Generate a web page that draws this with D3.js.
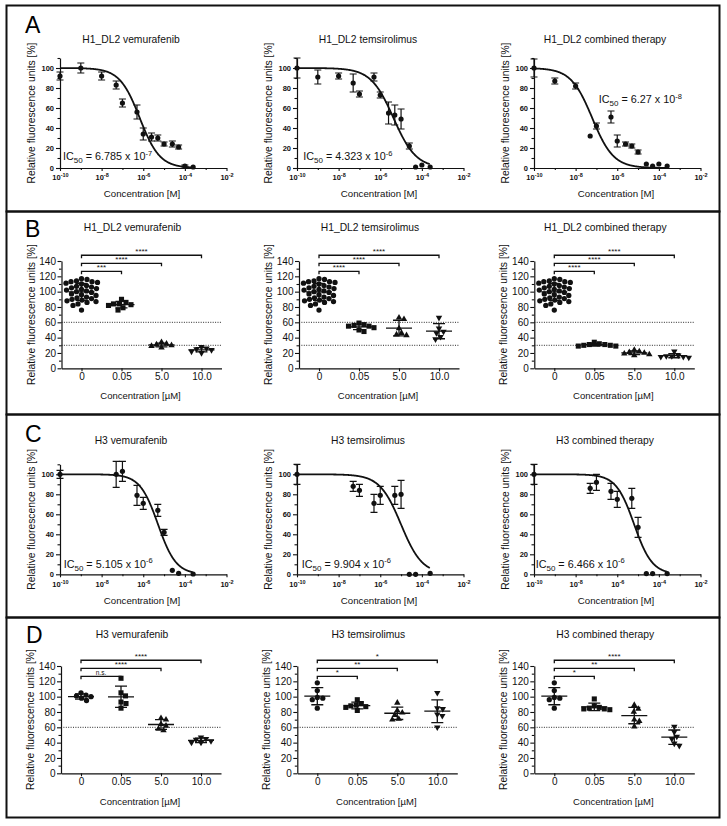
<!DOCTYPE html>
<html><head><meta charset="utf-8">
<script src="https://cdn.jsdelivr.net/npm/d3@7"></script>
<style>body{margin:0;background:#fff}</style>
</head><body><svg id="c" width="727" height="826"></svg>
<script>
// ---------------- DATA ----------------
// Dose-response (panels A, C): concentrations in M
const concH1 = [1e-10,1e-9,1e-8,5e-8,1e-7,5e-7,1e-6,2.5e-6,5e-6,1e-5,2.5e-5,5e-5,1e-4,2.5e-4];
const concH3 = [1e-10,5e-8,1e-7,5e-7,1e-6,5e-6,1e-5,2.5e-5,5e-5,2.5e-4];

const a1Mean = [92,100,92,83,65,56,34,31,30,24,24,21,2,1];
const a1Err  = [4,5,4,4,4,7,6,4,3,2,3,2,1,0];
const a2Mean = [100,91,92,85,74,91,73,55,53,49,22,1,3,1];
const a2Err  = [10,7,3,9,3,4,3,11,10,10,3,0,0,0];
const a3Mean = [100,87,82,32,42,51,27,24,22,16,4,2,4,2];
const a3Err  = [9,3,3,0,3,6,6,2,2,2,0,0,0,0];
const c1Mean = [100,100,103,79,71,64,42,4,1,0.3];
const c1Err  = [4,13,10,10,6,6,3,0,0,0];
const c2Mean = [100,88,84,71,79,79,80,0,0,1];
const c2Err  = [10,5,6,9,9,9,14,0,0,0];
const c3Mean = [100,86,92,83,75,76,47,0.7,0.7,0.7];
const c3Err  = [10,5,8,8,8,10,10,0,0,0];

const ic50Values = [6.785e-7, 4.323e-6, 6.27e-8, 5.105e-6, 9.904e-6, 6.466e-6];
const hillSlopes = [0.9, 0.8, 0.85, 1.0, 0.85, 1.0];
const fitTop = 100, fitBottom = 0;

const doseTitles = ["H1_DL2 vemurafenib","H1_DL2 temsirolimus","H1_DL2 combined therapy",
                    "H3 vemurafenib","H3 temsirolimus","H3 combined therapy"];
const doseXTicks = [1e-10,1e-8,1e-6,1e-4,1e-2];
const doseXMinor = [1e-9,1e-7,1e-5,1e-3];
const doseYTicks = [0,20,40,60,80,100];
const doseYMinor = [10,30,50,70,90,110];

// Scatter plots (panels B, D)
const categories = ["0","0.05","5.0","10.0"];
const scatterYTicks = [0,20,40,60,80,100,120,140];
const scatterYMinor = [10,30,50,70,90,110,130];
const h1Control = [117,116,114,113,113,112,111,110,108,107,106,105,104,103,102,101,100,99,97,96,95,93,92,91,90,89,88,87,86,84,82,76];
const h3Control = [118,108,99,96,98,85];

const b1Groups = [h1Control,[90,86,84,84,83,79,76,82],[34,32,31,30,29,27],[28,26,25,24,22,20]];
const b2Groups = [h1Control,[59,57,56,55,55,53,50,48],[66,64,52,46,43,44],[66,52,48,46,41,38]];
const b3Groups = [h1Control,[34,32,31,31,30,30,29,29],[24,22,21,20,19,18,17],[22,17,16,16,15,15,14]];
const d1Groups = [[105,102,101,100,98,95],[124,105,101,91,93,85],[72,70,64,62,58,56],[47,45,44,42,40,40]];
const d2Groups = [h3Control,[96,91,89,88,87,86,82],[92,82,79,76,71,70],[105,85,84,77,75,60]];
const d3Groups = [h3Control,[97,88,86,85,84,84,83],[89,84,80,70,68,61],[61,54,48,45,39,36]];

const b1Stars = ["***","****","****"];
const b2Stars = ["****","****","****"];
const b3Stars = ["****","****","****"];
const d1Stars = ["n.s.","****","****"];
const d2Stars = ["*","**","*"];
const d3Stars = ["*","**","****"];
const bracketLevels = [126.5,137,147.5];
const bThresholds = [60,30];
const dThresholds = [60];

const panelLetters = ["A","B","C","D"];

// ---------------- LAYOUT ----------------
const FONT = '"Liberation Sans", Arial, Helvetica, sans-serif';
const svg = d3.select("#c");
svg.append("rect").attr("width",727).attr("height",826).attr("fill","#fff");

const panelBoxes = [[6.5,5.5,713,206],[6.5,211.5,713,203],[6.5,414.5,713,203],[6.5,617.5,713,200]];
const letterPos = [[25,33],[25,237],[25,442],[26,643]];
panelBoxes.forEach(b => svg.append("rect").attr("x",b[0]).attr("y",b[1]).attr("width",b[2]).attr("height",b[3])
  .attr("fill","none").attr("stroke","#111").attr("stroke-width",2));
panelLetters.forEach((l,i) => svg.append("text").attr("x",letterPos[i][0]).attr("y",letterPos[i][1])
  .attr("font-family",FONT).attr("font-size",23).text(l));

const doseLayouts = [
  {x0:60,y0:168,titleY:42.5,labelY:197},{x0:297,y0:168,titleY:42.5,labelY:197},{x0:534,y0:168,titleY:42.5,labelY:197},
  {x0:60,y0:574.3,titleY:444,labelY:604},{x0:297,y0:574.3,titleY:444,labelY:604},{x0:534,y0:574.3,titleY:444,labelY:604}];
const icPositions = [[1.4e-10,8],[2e-10,8],[1.3e-7,65],[1.5e-10,6.5],[1.7e-10,6.5],[1.2e-10,6.5]];

const scatterLayouts = [
  {x0:61.5,y0:368.3,titleY:231,labelY:399},{x0:299,y0:368.3,titleY:231,labelY:399},{x0:534.3,y0:368.3,titleY:231,labelY:399},
  {x0:61,y0:773.3,titleY:638,labelY:805},{x0:297.3,y0:773.3,titleY:638,labelY:805},{x0:534.3,y0:773.3,titleY:638,labelY:805}];

function styleAxis(a, size, weight) {
  a.attr("font-family", FONT);
  a.select(".domain").attr("stroke","#111").attr("stroke-width",1.2);
  a.selectAll(".tick line").attr("stroke","#111").attr("stroke-width",1.1);
  a.selectAll(".tick text").attr("font-size",size).attr("font-weight",weight).attr("fill","#111").attr("font-family",FONT);
}

function yLabel(g, x, yc) {
  g.append("text").attr("transform",`translate(${x},${yc}) rotate(-90)`).attr("text-anchor","middle")
    .attr("font-family",FONT).attr("font-size",10.3).attr("fill","#111").text("Relative fluorescence units [%]");
}

function drawDose(i, conc, mean, err) {
  const L = doseLayouts[i];
  const g = svg.append("g");
  const x = d3.scaleLog().domain([1e-10,1e-2]).range([L.x0, L.x0+166.5]);
  const y = d3.scaleLinear().domain([0,110]).range([L.y0, L.y0-110]);

  g.append("g").attr("transform",`translate(${L.x0},0)`)
    .call(d3.axisLeft(y).tickValues(doseYMinor).tickSize(2.5).tickFormat("").tickSizeOuter(0))
    .call(a => { a.select(".domain").remove(); a.selectAll("line").attr("stroke","#111").attr("stroke-width",1.1); });
  const ya = g.append("g").attr("transform",`translate(${L.x0},0)`)
    .call(d3.axisLeft(y).tickValues(doseYTicks).tickSize(4).tickPadding(2).tickSizeOuter(0));
  styleAxis(ya, 7.5, "bold");

  g.append("g").attr("transform",`translate(0,${L.y0})`)
    .call(d3.axisBottom(x).tickValues(doseXMinor).tickSize(2).tickFormat("").tickSizeOuter(0))
    .call(a => { a.select(".domain").remove(); a.selectAll("line").attr("stroke","#111").attr("stroke-width",1.1); });
  const xa = g.append("g").attr("transform",`translate(0,${L.y0})`)
    .call(d3.axisBottom(x).tickValues(doseXTicks).tickSize(3).tickPadding(4).tickFormat(() => "").tickSizeOuter(0));
  styleAxis(xa, 7.5, "bold");
  xa.selectAll(".tick text").each(function(d) {
    const t = d3.select(this);
    t.append("tspan").text("10");
    t.append("tspan").attr("dy",-3).attr("font-size",5.5).text(Math.round(Math.log10(d)));
  });

  // fit curve
  const logIC = Math.log10(ic50Values[i]), h = hillSlopes[i];
  const lmin = Math.log10(d3.min(conc)), lmax = Math.log10(d3.max(conc));
  const curve = d3.range(lmin, lmax + 0.001, 0.02).map(l => [l, fitBottom + (fitTop-fitBottom)/(1+Math.pow(10,(l-logIC)*h))]);
  g.append("path").datum(curve).attr("fill","none").attr("stroke","#111").attr("stroke-width",1.8)
    .attr("d", d3.line().x(d => x(Math.pow(10,d[0]))).y(d => y(d[1])));

  // error bars + points
  conc.forEach((c,k) => {
    if (err[k] > 0.5) {
      const cx = x(c), y1 = y(mean[k]+err[k]), y2 = y(Math.max(0,mean[k]-err[k]));
      g.append("path").attr("d",`M${cx},${y1}V${y2}M${cx-3.5},${y1}H${cx+3.5}M${cx-3.5},${y2}H${cx+3.5}`)
        .attr("stroke","#111").attr("stroke-width",1.2).attr("fill","none");
    }
    g.append("circle").attr("cx",x(c)).attr("cy",y(mean[k])).attr("r",2.6).attr("fill","#111");
  });

  // labels
  g.append("text").attr("x",L.x0+71).attr("y",L.titleY).attr("text-anchor","middle")
    .attr("font-family",FONT).attr("font-size",10.3).attr("fill","#111").text(doseTitles[i]);
  g.append("text").attr("x",L.x0+82).attr("y",L.labelY).attr("text-anchor","middle")
    .attr("font-family",FONT).attr("font-size",9.7).attr("fill","#111").text("Concentration [M]");
  yLabel(g, L.x0-25, y(55));

  const [mant, ex] = ic50Values[i].toExponential().split("e");
  const p = icPositions[i];
  const t = g.append("text").attr("x",x(p[0])).attr("y",y(p[1])).attr("font-family",FONT).attr("font-size",10.8).attr("fill","#111");
  t.append("tspan").text("IC");
  t.append("tspan").attr("font-size",8).attr("dy",3).text("50");
  t.append("tspan").attr("dy",-3).text(" = " + mant + " x 10");
  t.append("tspan").attr("font-size",7.5).attr("dy",-4.5).text(ex);
}

function swarm(vals, y, diam) {
  const pts = vals.map(v => ({v, py: y(v)})).sort((a,b) => a.py - b.py);
  const placed = [];
  pts.forEach(p => {
    for (let k = 0; k < 400; k++) {
      const off = (k % 2 ? 1 : -1) * Math.ceil(k/2) * 0.5;
      if (placed.every(q => (q.dx-off)*(q.dx-off) + (q.py-p.py)*(q.py-p.py) >= diam*diam)) { p.dx = off; break; }
    }
    placed.push(p);
  });
  return pts;
}

const symbolTypes = [d3.symbolCircle, d3.symbolSquare, d3.symbolTriangle, d3.symbolTriangle];
const symbolSizes = [22, 26, 18, 18];

function drawScatter(i, groups, stars, thresholds) {
  const L = scatterLayouts[i];
  const g = svg.append("g");
  const x = d3.scalePoint().domain(categories).range([L.x0, L.x0+160]).padding(0.5);
  const y = d3.scaleLinear().domain([0,140]).range([L.y0, L.y0-107.3]);

  // threshold lines
  thresholds.forEach(t => g.append("line").attr("x1",L.x0).attr("x2",L.x0+160).attr("y1",y(t)).attr("y2",y(t))
    .attr("stroke","#111").attr("stroke-width",0.9).attr("stroke-dasharray","1,1.4"));

  g.append("g").attr("transform",`translate(${L.x0},0)`)
    .call(d3.axisLeft(y).tickValues(scatterYMinor).tickSize(2.5).tickFormat("").tickSizeOuter(0))
    .call(a => { a.select(".domain").remove(); a.selectAll("line").attr("stroke","#111").attr("stroke-width",1.1); });
  const ya = g.append("g").attr("transform",`translate(${L.x0},0)`)
    .call(d3.axisLeft(y).tickValues(scatterYTicks).tickSize(4).tickPadding(1.5).tickSizeOuter(0));
  styleAxis(ya, 10, "normal");
  const xa = g.append("g").attr("transform",`translate(0,${L.y0})`)
    .call(d3.axisBottom(x).tickSize(3).tickPadding(1.8).tickSizeOuter(0));
  styleAxis(xa, 10, "normal");

  // points, mean & SD
  groups.forEach((vals, k) => {
    const cx = x(categories[k]);
    const pts = swarm(vals, y, 5.2);
    const sym = d3.symbol().type(symbolTypes[k]).size(symbolSizes[k]);
    pts.forEach(p => {
      g.append("path").attr("d", sym()).attr("fill","#111")
        .attr("transform", `translate(${cx+p.dx},${p.py})` + (k === 3 ? " rotate(180)" : ""));
    });
    const m = d3.mean(vals), sd = d3.deviation(vals);
    const yt = y(m+sd), yb = y(m-sd), ym = y(m);
    g.append("path").attr("d",`M${cx-13},${ym}H${cx+13}M${cx},${yt}V${yb}M${cx-6},${yt}H${cx+6}M${cx-6},${yb}H${cx+6}`)
      .attr("stroke","#111").attr("stroke-width",1.3).attr("fill","none");
  });

  // significance brackets
  stars.forEach((s, k) => {
    const yb = y(bracketLevels[k]), x1 = x(categories[0]), x2 = x(categories[k+1]);
    g.append("path").attr("d",`M${x1},${yb+3}V${yb}H${x2}V${yb+3}`).attr("fill","none")
      .attr("stroke","#111").attr("stroke-width",1.3);
    g.append("text").attr("x",(x1+x2)/2).attr("y",yb-1.3).attr("text-anchor","middle")
      .attr("font-family",FONT).attr("font-size",s === "n.s." ? 6.5 : 8).attr("fill","#111").text(s);
  });

  g.append("text").attr("x",L.x0+71).attr("y",L.titleY).attr("text-anchor","middle")
    .attr("font-family",FONT).attr("font-size",10.3).attr("fill","#111").text(doseTitles[i]);
  g.append("text").attr("x",L.x0+79).attr("y",L.labelY).attr("text-anchor","middle")
    .attr("font-family",FONT).attr("font-size",9.5).attr("fill","#111").text("Concentration [µM]");
  yLabel(g, L.x0-27, y(70));
}

drawDose(0, concH1, a1Mean, a1Err);
drawDose(1, concH1, a2Mean, a2Err);
drawDose(2, concH1, a3Mean, a3Err);
drawDose(3, concH3, c1Mean, c1Err);
drawDose(4, concH3, c2Mean, c2Err);
drawDose(5, concH3, c3Mean, c3Err);

drawScatter(0, b1Groups, b1Stars, bThresholds);
drawScatter(1, b2Groups, b2Stars, bThresholds);
drawScatter(2, b3Groups, b3Stars, bThresholds);
drawScatter(3, d1Groups, d1Stars, dThresholds);
drawScatter(4, d2Groups, d2Stars, dThresholds);
drawScatter(5, d3Groups, d3Stars, dThresholds);
</script>
</body></html>
